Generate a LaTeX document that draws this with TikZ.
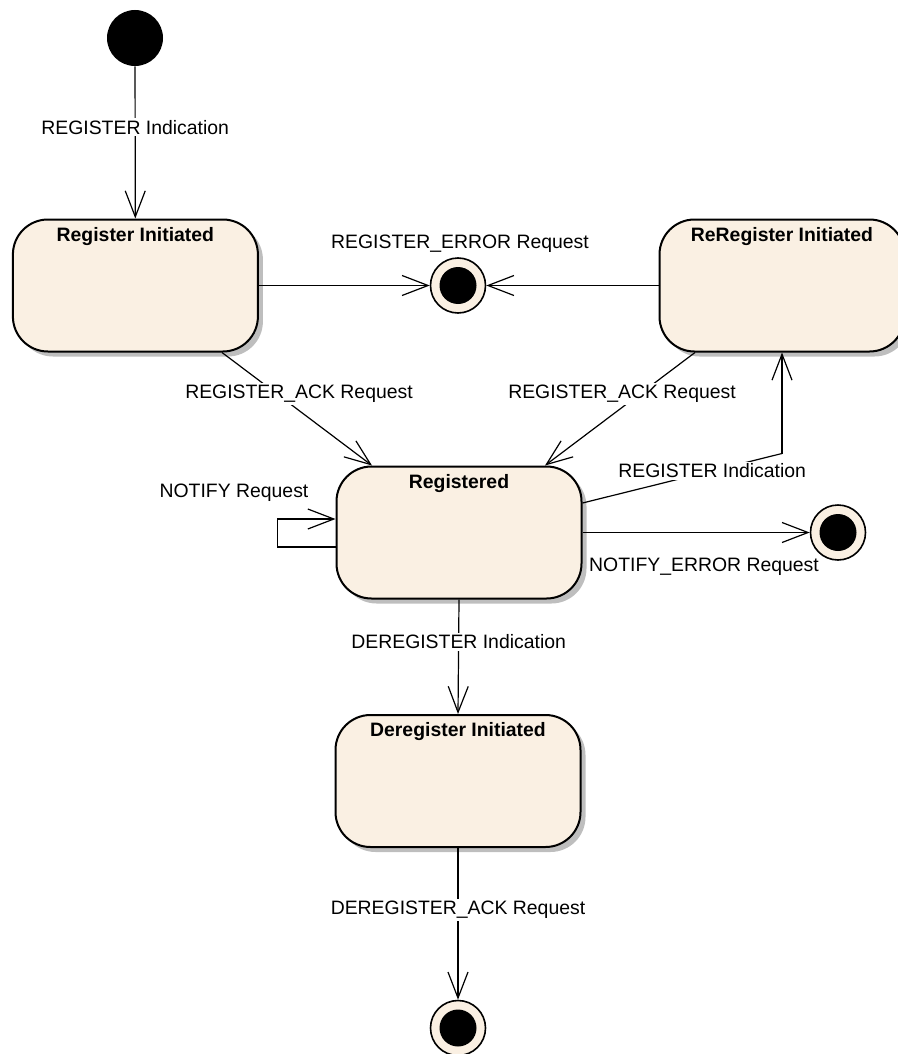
\documentclass[tikz,border=0pt]{standalone}
\usepackage{fontspec}
\setmainfont{Liberation Sans}
\usetikzlibrary{arrows.meta,shadows,calc}
\definecolor{cream}{RGB}{250,240,227}
\definecolor{shadowgray}{RGB}{190,190,190}
\begin{document}
\begin{tikzpicture}[x=0.5pt,y=-0.5pt,
  statebox/.style={rectangle, rounded corners=17.5pt, draw=black, line width=1pt, fill=cream,
    minimum width=122.5pt, minimum height=66pt, inner sep=0pt,
    drop shadow={shadow xshift=2.5pt, shadow yshift=-2.5pt, fill=shadowgray, opacity=1}},
  titletext/.style={font=\bfseries\fontsize{9.7}{11}\selectfont, inner sep=0pt},
  lbl/.style={font=\fontsize{9.7}{11}\selectfont, inner sep=1pt},
  lblw/.style={lbl, fill=white},
  initnode/.style={circle, fill=black, minimum size=28pt, inner sep=0pt},
  finalnode/.style={circle, draw=black, line width=0.8pt, fill=cream, minimum size=27.5pt, inner sep=0pt,
    path picture={\fill[black] (path picture bounding box.center) circle (9.25pt);}},
  arr/.style={line width=0.6pt, -{Straight Barb[length=13pt,width=10pt,line width=0.6pt]}},
  ln/.style={line width=0.6pt}
]
\useasboundingbox (0,0) rectangle (898,1054);

% nodes
\node[initnode] (init) at (135,38) {};
\node[statebox] (ri) at (135.4,285.5) {};
\node[titletext] (rit) at ($(ri.north)+(0,18)$) {Register Initiated};
\node[statebox] (rr) at (782,285.5) {};
\node[titletext] (rrt) at ($(rr.north)+(0,18)$) {ReRegister Initiated};
\node[statebox] (reg) at (459,532.5) {};
\node[titletext] (regt) at ($(reg.north)+(0,18)$) {Registered};
\node[statebox] (dr) at (458,781) {};
\node[titletext] (drt) at ($(dr.north)+(0,18)$) {Deregister Initiated};

\node[finalnode] (fe1) at (458,285.5) {};
\node[finalnode] (fe2) at (838,532.5) {};
\node[finalnode] (fe3) at (458,1028) {};

% edges
\draw[arr] (init) -- (ri) node[lblw, pos=0.4] {REGISTER Indication};

\draw[arr] (ri.east) -- (fe1);
\draw[arr] (rr.west) -- (fe1);
\node[lbl] (errlbl) at (460,244) {REGISTER\_ERROR Request};

\draw[arr] ($(ri.south)+(86.6,0)$) -- ($(reg.north)+(-87,0)$);
\node[lblw] (ack1) at (299,394) {REGISTER\_ACK Request};
\draw[arr] ($(rr.south)+(-87,0)$) -- ($(reg.north)+(86,0)$);
\node[lblw] (ack2) at (622,394) {REGISTER\_ACK Request};

\coordinate (bend) at ($(rr.south)+(0,101)$);
\draw[ln] ($(reg.east)+(0,-29.5)$) -- (bend) node[lblw, pos=0.65] {REGISTER Indication};
\draw[arr] (bend) -- (rr.south);

\draw[arr] (reg.east) -- (fe2);
\node[lbl] (nelbl) at (704,567) {NOTIFY\_ERROR Request};

\draw[arr] ($(reg.west)+(0,14.5)$) -- ++(-58,0) -- ++(0,-28) -- ++(58,0);
\node[lbl] (nlbl) at (234,493) {NOTIFY Request};

\draw[arr] (reg.south) -- (dr.north) node[lblw, pos=0.37] {DEREGISTER Indication};
\draw[arr] (dr.south) -- (fe3) node[lblw, pos=0.41] {DEREGISTER\_ACK Request};
\end{tikzpicture}
\end{document}
